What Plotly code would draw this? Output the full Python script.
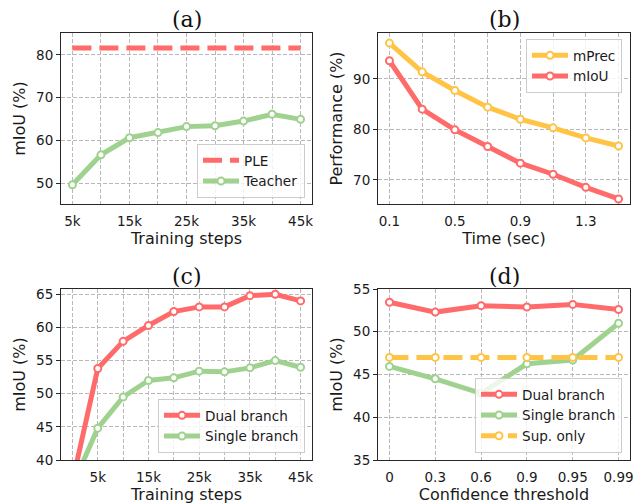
import plotly.graph_objects as go

# ---------------- data ----------------
# (a)
steps_a = [5, 10, 15, 20, 25, 30, 35, 40, 45]
steps_a_labels = ["5k", "", "15k", "", "25k", "", "35k", "", "45k"]
ple_a = [81.6] * 9
teacher_a = [49.6, 56.6, 60.6, 61.8, 63.2, 63.4, 64.5, 66.1, 64.9]

# (b)
time_b = [0.1, 0.3, 0.5, 0.7, 0.9, 1.1, 1.3, 1.5]
time_b_labels = ["0.1", "", "0.5", "", "0.9", "", "1.3", ""]
mprec_b = [97.1, 91.4, 87.7, 84.4, 82.0, 80.3, 78.3, 76.7]
miou_b = [93.6, 84.0, 79.9, 76.6, 73.3, 71.1, 68.5, 66.2]

# (c)
steps_c = [0, 5, 10, 15, 20, 25, 30, 35, 40, 45]
steps_c_labels = ["", "5k", "", "15k", "", "25k", "", "35k", "", "45k"]
dual_c = [36.7, 53.8, 57.9, 60.3, 62.4, 63.1, 63.1, 64.8, 65.0, 64.0]
single_c = [36.1, 44.8, 49.5, 52.0, 52.4, 53.4, 53.3, 53.9, 55.0, 54.0]

# (d)
thr_d = ["0", "0.3", "0.6", "0.9", "0.95", "0.99"]
dual_d = [53.45, 52.3, 53.05, 52.9, 53.2, 52.6]
single_d = [45.95, 44.5, 42.8, 46.25, 46.7, 51.0]
sup_d = [47.0] * 6

# ---------------- style ----------------
RED = "#ff6b6b"
GREEN = "#a0d28f"
YELLOW = "#ffc446"
GRID = "#b8b8b8"
FRAME = "#262626"
SANS = "DejaVu Sans"
SERIF = "DejaVu Serif"
TICK_FS = 13.5
LAB_FS = 16
LEG_FS = 13.6
TITLE_FS = 22

LW = 5

# page offset of the plot inside the browser window (body margin)
OX, OY = 8, 8


def line_trace(x, y, name, color, xa, ya, legend, dash=None, markers=True):
    return go.Scatter(
        x=x, y=y, name=name, xaxis=xa, yaxis=ya, legend=legend,
        legendgroup=legend + name,
        mode="lines+markers" if markers else "lines",
        line=dict(color=color, width=LW, dash=dash),
        marker=dict(size=7, color="white", line=dict(width=2, color=color)) if markers else None,
    )


fig = go.Figure()
fig.add_trace(line_trace(steps_a, ple_a, "PLE", RED, "x", "y", "legend", dash="19px,8px", markers=False))
fig.add_trace(line_trace(steps_a, teacher_a, "Teacher", GREEN, "x", "y", "legend"))
fig.add_trace(line_trace(time_b, mprec_b, "mPrec", YELLOW, "x2", "y2", "legend2"))
fig.add_trace(line_trace(time_b, miou_b, "mIoU", RED, "x2", "y2", "legend2"))
fig.add_trace(line_trace(steps_c, dual_c, "Dual branch", RED, "x3", "y3", "legend3"))
fig.add_trace(line_trace(steps_c, single_c, "Single branch", GREEN, "x3", "y3", "legend3"))
fig.add_trace(line_trace(thr_d, dual_d, "Dual branch", RED, "x4", "y4", "legend4"))
fig.add_trace(line_trace(thr_d, single_d, "Single branch", GREEN, "x4", "y4", "legend4"))
fig.add_trace(line_trace(thr_d, sup_d, "Sup. only", YELLOW, "x4", "y4", "legend4", dash="19px,8px"))

W, H = 641, 504


def px_x(v):
    return (v - OX) / W


def px_y(v):
    return 1 - (v - OY) / H


def dom_x(l, r):
    return [px_x(l), px_x(r)]


def dom_y(t, b):
    return [px_y(b), px_y(t)]


def xaxis(domain, anchor, title, **kw):
    d = dict(
        domain=domain, anchor=anchor, automargin=False,
        showline=True, mirror=True, linecolor=FRAME, linewidth=1,
        showgrid=True, gridcolor=GRID, griddash="4px,2px", gridwidth=1,
        zeroline=False,
        ticks="outside", ticklen=5, tickcolor="rgba(0,0,0,0)",
        tickfont=dict(family=SANS, size=TICK_FS, color="#1a1a1a"),
        title=dict(text=title, font=dict(family=SANS, size=LAB_FS, color="#1a1a1a"), standoff=4),
    )
    d.update(kw)
    return d


def yaxis(domain, anchor, title, **kw):
    d = dict(
        domain=domain, anchor=anchor, automargin=False,
        showline=True, mirror=True, linecolor=FRAME, linewidth=1,
        showgrid=True, gridcolor=GRID, griddash="4px,2px", gridwidth=1,
        zeroline=False,
        ticks="outside", ticklen=4, tickcolor=FRAME, tickwidth=1,
        tickfont=dict(family=SANS, size=TICK_FS, color="#1a1a1a"),
        title=dict(text=title, font=dict(family=SANS, size=LAB_FS, color="#1a1a1a"), standoff=6),
    )
    d.update(kw)
    return d


xa_dom = dom_x(61, 312)
xb_dom = dom_x(378, 630)
top_dom = dom_y(33, 204)
bot_dom = dom_y(289, 460)

layout = dict(
    width=W, height=H,
    margin=dict(l=0, r=0, t=0, b=0, pad=0, autoexpand=False),
    paper_bgcolor="white", plot_bgcolor="white",
    xaxis=xaxis(xa_dom, "y", "Training steps", range=[3, 47], tickvals=steps_a, ticktext=steps_a_labels),
    yaxis=yaxis(top_dom, "x", "mIoU (%)", range=[45.1, 85.1], tickvals=[50, 60, 70, 80]),
    xaxis2=xaxis(xb_dom, "y2", "Time (sec)", range=[0.03, 1.57], tickvals=time_b, ticktext=time_b_labels),
    yaxis2=yaxis(top_dom, "x2", "Performance (%)", range=[65.2, 99.1], tickvals=[70, 80, 90]),
    xaxis3=xaxis(xa_dom, "y3", "Training steps", range=[-2.25, 47.25], tickvals=steps_c, ticktext=steps_c_labels),
    yaxis3=yaxis(bot_dom, "x3", "mIoU (%)", range=[40, 65.8], tickvals=[40, 45, 50, 55, 60, 65]),
    xaxis4=xaxis(xb_dom, "y4", "Confidence threshold", type="category", range=[-0.25, 5.25]),
    yaxis4=yaxis(bot_dom, "x4", "mIoU (%)", range=[35, 55], tickvals=[35, 40, 45, 50, 55]),
)


def legend(x_right, y_edge, anchor_y="bottom"):
    return dict(
        x=px_x(x_right), y=px_y(y_edge), xanchor="right", yanchor=anchor_y,
        bgcolor="rgba(255,255,255,0.8)", bordercolor="#cccccc", borderwidth=1,
        font=dict(family=SANS, size=LEG_FS, color="#1a1a1a"),
        tracegroupgap=0, itemwidth=36,
    )


layout["legend"] = legend(305, 198)
layout["legend2"] = legend(622, 39, anchor_y="top")
layout["legend3"] = legend(305, 453)
layout["legend4"] = legend(622, 453)

titles = [("(a)", 187, 19), ("(b)", 504, 19), ("(c)", 187, 276), ("(d)", 504, 276)]
layout["annotations"] = [
    dict(text=t, x=px_x(x), y=px_y(y), xref="paper", yref="paper",
         xanchor="center", yanchor="middle", showarrow=False,
         font=dict(family=SERIF, size=TITLE_FS, color="#111111"))
    for t, x, y in titles
]

fig.update_layout(**layout)
fig.write_html("out.html")
